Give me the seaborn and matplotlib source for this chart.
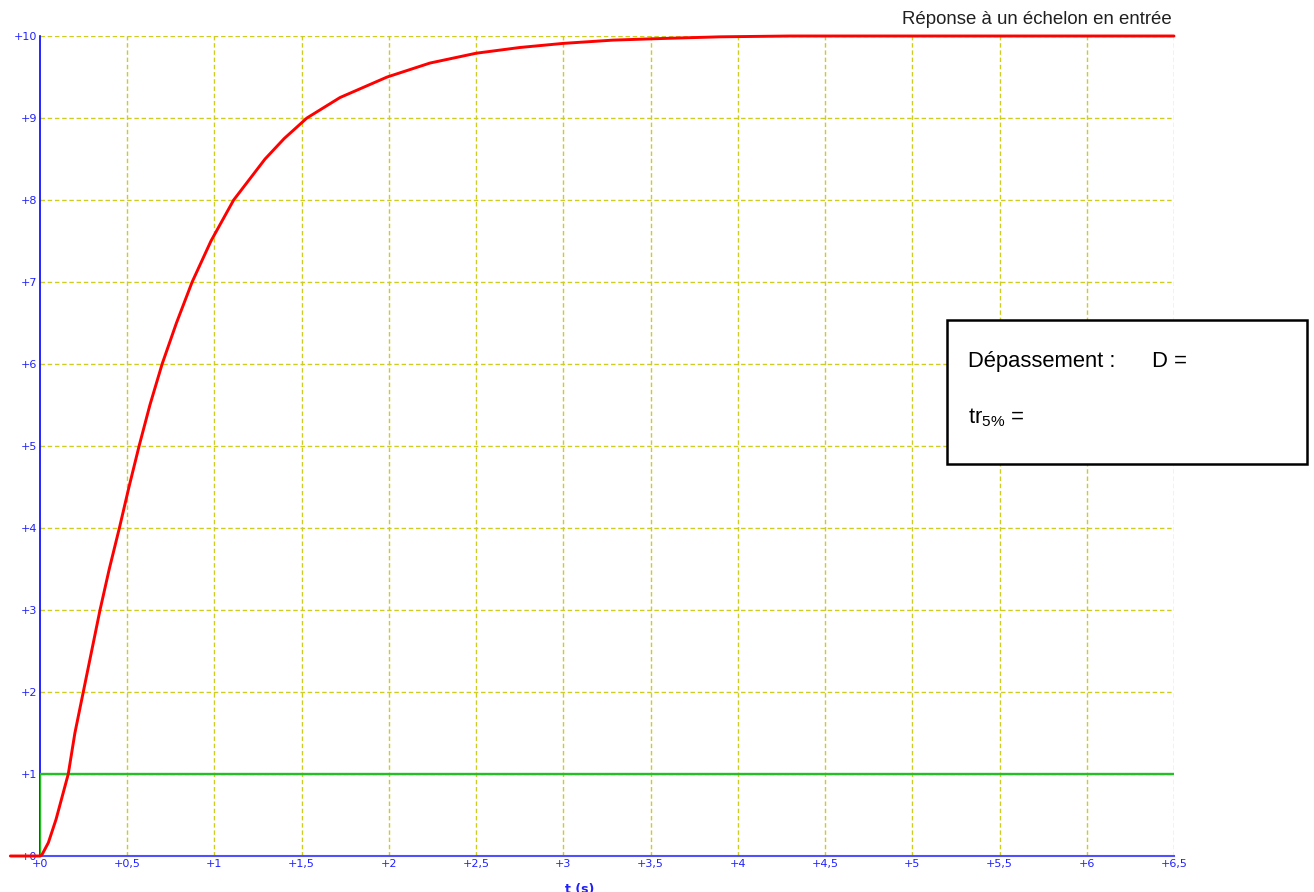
import numpy as np
import pandas as pd
import matplotlib
matplotlib.use("Agg")
import matplotlib.pyplot as plt
import seaborn as sns
from matplotlib.patches import Rectangle

# ---- data ----
t_resp = [-0.17, 0.0, 0.01, 0.048, 0.092, 0.162, 0.2, 0.248, 0.344, 0.397, 0.455, 0.510,
          0.568, 0.630, 0.700, 0.782, 0.872, 0.98, 1.11, 1.29, 1.40, 1.53, 1.72, 1.99,
          2.235, 2.5, 2.751, 3.0, 3.286, 3.573, 3.898, 4.3, 4.6, 6.5]
y_resp = [0.0, 0.0, 0.01, 0.163, 0.447, 1.0, 1.5, 2.0, 3.0, 3.5, 4.0, 4.5,
          5.0, 5.5, 6.0, 6.5, 7.0, 7.5, 8.0, 8.5, 8.75, 9.0, 9.25, 9.5,
          9.67, 9.79, 9.86, 9.91, 9.95, 9.97, 9.99, 10.0, 10.0, 10.0]
t_step = [0.0, 0.0, 6.5]
y_step = [0.0, 1.0, 1.0]
x_ticks = [0, 0.5, 1, 1.5, 2, 2.5, 3, 3.5, 4, 4.5, 5, 5.5, 6, 6.5]
x_labels = ["+0", "+0,5", "+1", "+1,5", "+2", "+2,5", "+3", "+3,5", "+4", "+4,5",
            "+5", "+5,5", "+6", "+6,5"]
y_ticks = list(range(0, 11))
y_labels = ["+" + str(v) for v in y_ticks]
title = "Réponse à un échelon en entrée"
xlabel = "t (s)"
box_line1 = "Dépassement :      D ="
box_line2 = r"tr$_{5\%}$ ="

sns.set_style("white")
plt.rcParams['font.family'] = ['Liberation Sans', 'DejaVu Sans']
plt.rcParams['mathtext.fontset'] = 'custom'
plt.rcParams['mathtext.rm'] = 'Liberation Sans'
plt.rcParams['mathtext.it'] = 'Liberation Sans'

W, H = 1314, 892
fig = plt.figure(figsize=(W / 100, H / 100), dpi=100)
ax = fig.add_axes([40 / W, (H - 856) / H, (1174 - 40) / W, (856 - 36) / H])

df_r = pd.DataFrame({"t": t_resp, "y": y_resp})
df_s = pd.DataFrame({"t": t_step, "y": y_step})

ax.set_xlim(0, 6.5)
ax.set_ylim(0, 10)

grid_col = "#cccc22"
dash = (0, (3.2, 2.0))
for xv in x_ticks[1:]:
    ax.axvline(xv, color=grid_col, lw=1.0, ls=dash, zorder=1)
for yv in y_ticks[1:]:
    ax.axhline(yv, color=grid_col, lw=1.0, ls=dash, zorder=1)

sns.lineplot(data=df_s, x="t", y="y", sort=False, estimator=None, ax=ax,
             color="#22c022", lw=1.7, zorder=3)
sns.lineplot(data=df_r, x="t", y="y", sort=False, estimator=None, ax=ax,
             color="#ff0000", lw=2.1, zorder=4, clip_on=False)

for s in ["top", "right"]:
    ax.spines[s].set_visible(False)
ax.spines["left"].set_color("#0000ff")
ax.spines["left"].set_linewidth(1.2)
ax.spines["bottom"].set_color("#5050ff")
ax.spines["bottom"].set_linewidth(1.5)
ax.spines["bottom"].set_zorder(2)

ax.set_xticks(x_ticks)
ax.set_xticklabels(x_labels, fontfamily="DejaVu Sans")
ax.set_yticks(y_ticks)
ax.set_yticklabels(y_labels, fontfamily="DejaVu Sans")
ax.tick_params(axis="both", length=0, labelsize=8, labelcolor="#2020ff")
ax.tick_params(axis="x", pad=2)
ax.tick_params(axis="y", pad=2)
ax.set_xlabel(xlabel, color="#2020ff", fontsize=9, fontweight="bold", labelpad=2,
              fontfamily="DejaVu Sans")
ax.xaxis.set_label_coords((580 - 40) / (1174 - 40), -0.033)
ax.set_ylabel("")

fig.text(1172 / W, 1 - 20 / H, title, ha="right", va="center", fontsize=13.4, color="#202020")

rect = Rectangle((947 / W, 1 - 464 / H), (1307 - 947) / W, (464 - 320) / H,
                 transform=fig.transFigure, facecolor="white", edgecolor="black",
                 lw=1.8, zorder=10)
fig.patches.append(rect)
fig.text(968 / W, 1 - 362 / H, box_line1, ha="left", va="center", fontsize=15.8,
         color="black", zorder=11)
fig.text(968 / W, 1 - 418 / H, box_line2, ha="left", va="center", fontsize=15.8,
         color="black", zorder=11)

fig.savefig("out.png", dpi=100)
